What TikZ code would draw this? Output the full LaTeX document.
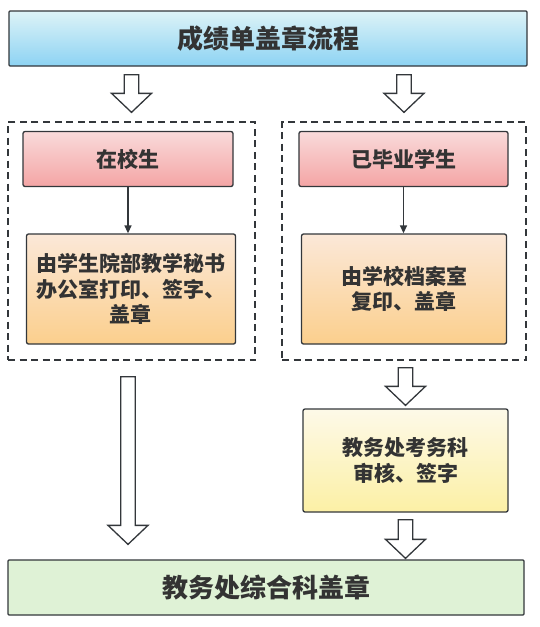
\documentclass[tikz,border=0pt]{standalone}
\usepackage{fontspec}
\setmainfont{Noto Sans CJK SC}
\usetikzlibrary{positioning,calc,arrows.meta}

\definecolor{edge}{HTML}{33373B}
\definecolor{txt}{HTML}{333333}
\definecolor{titleTop}{HTML}{DDF3F7}
\definecolor{titleBot}{HTML}{8DD3F3}
\definecolor{pinkTop}{HTML}{F9DADA}
\definecolor{pinkBot}{HTML}{F4A5A5}
\definecolor{orangeTop}{HTML}{FBE8D8}
\definecolor{orangeBot}{HTML}{FBCF8D}
\definecolor{yellowTop}{HTML}{FDF9E8}
\definecolor{yellowBot}{HTML}{FCF0A5}
\definecolor{greenFill}{HTML}{DFF2D6}

\tikzset{
	box/.style={rectangle, draw=edge, line width=1.3pt, rounded corners=2pt, text=txt, align=center, inner sep=0pt, font=\bfseries\fontsize{21}{25.5}\selectfont},
	bigbox/.style={box, rounded corners=1pt, minimum height=55pt, font=\bfseries\fontsize{26}{30}\selectfont},
	group/.style={rectangle, draw=edge, line width=1.3pt, dash pattern=on 7pt off 4.5pt},
	hollow/.style={draw=edge, fill=white, line width=1.3pt, line join=miter},
}

% hollow block arrow: #1 = start of shaft, #2 = tip
\newcommand{\hollowarrow}[2]{%
	\draw[hollow] ($#1+(-7.2,0)$) -- ($#2+(-7.2,-19)$) -- ($#2+(-20,-19)$) -- #2 -- ($#2+(20,-19)$) -- ($#2+(7.2,-19)$) -- ($#1+(7.2,0)$) -- cycle;}

\begin{document}
\begin{tikzpicture}[x=1pt, y=-1pt]
		\useasboundingbox (0,0) rectangle (539,627);

		\node (title) [bigbox, top color=titleTop, bottom color=titleBot, minimum width=518pt] at (268,38.5) {成绩单盖章流程};

		\node (grpL) [group, minimum width=247pt, minimum height=238pt] at (131.5,241) {};
		\node (grpR) [group, minimum width=244pt, minimum height=238pt] at (404,241) {};

		\node (inSchool) [box, top color=pinkTop, bottom color=pinkBot, minimum width=210pt, minimum height=55pt] at (128,159) {在校生};
		\node (graduated) [box, top color=pinkTop, bottom color=pinkBot, minimum width=209pt, minimum height=55pt] at (403.5,159) {已毕业学生};

		\node (secretary) [box, top color=orangeTop, bottom color=orangeBot, minimum width=209pt, minimum height=110pt] at (131,289) {由学生院部教学秘书\\办公室打印、签字、\\盖章};
		\node (archive) [box, top color=orangeTop, bottom color=orangeBot, minimum width=205pt, minimum height=110pt] at (404,289) {由学校档案室\\复印、盖章};

		\node (exam) [box, top color=yellowTop, bottom color=yellowBot, minimum width=205pt, minimum height=103pt] at (405.5,460.5) {教务处考务科\\审核、签字};

		\node (stamp) [bigbox, fill=greenFill, minimum width=516pt] at (266,587.5) {教务处综合科盖章};

		\draw[-{Triangle[length=8pt,width=7pt]}, draw=edge, fill=edge, line width=1.3pt] (inSchool) -- (secretary.north -| inSchool.south);
		\draw[-{Triangle[length=8pt,width=7pt]}, draw=edge, fill=edge, line width=1.3pt] (graduated) -- (archive.north -| graduated.south);

		% block arrows
		\coordinate (a1s) at ($(title.south -| grpL.north)+(0,8)$);
		\coordinate (a1e) at ($(grpL.north)+(0,-9)$);
		\coordinate (a2s) at ($(title.south -| grpR.north)+(0,8)$);
		\coordinate (a2e) at ($(grpR.north)+(0,-9)$);
		\coordinate (a3s) at ($(grpL.south -| inSchool.south)+(0,16)$);
		\coordinate (a3e) at ($(stamp.north -| inSchool.south)+(0,-15)$);
		\coordinate (a4s) at ($(grpR.south -| exam.north)+(0,7)$);
		\coordinate (a4e) at ($(exam.north)+(0,-3)$);
		\coordinate (a5s) at ($(exam.south)+(0,7)$);
		\coordinate (a5e) at ($(stamp.north -| exam.south)+(0,-1)$);
		\hollowarrow{(a1s)}{(a1e)}
		\hollowarrow{(a2s)}{(a2e)}
		\hollowarrow{(a3s)}{(a3e)}
		\hollowarrow{(a4s)}{(a4e)}
		\hollowarrow{(a5s)}{(a5e)}

	\end{tikzpicture}
\end{document}
